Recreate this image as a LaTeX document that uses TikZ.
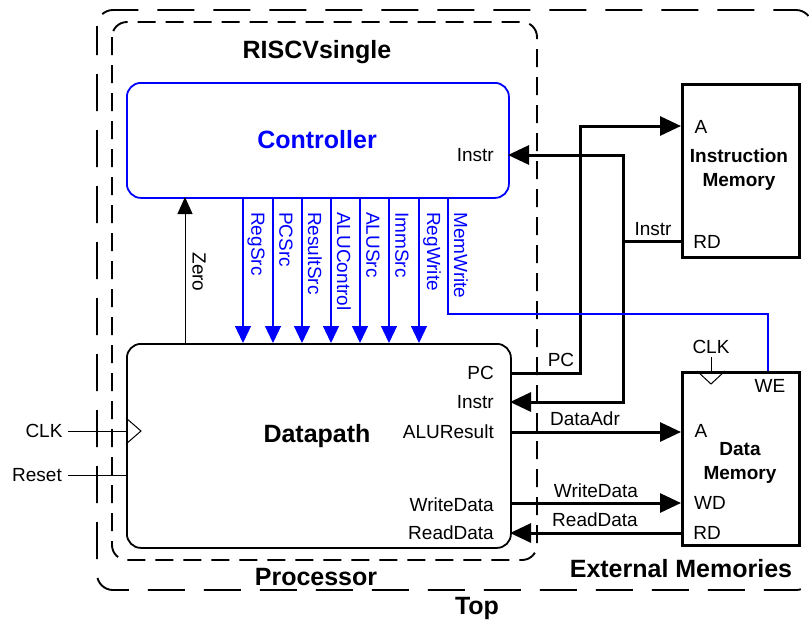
\documentclass[tikz,border=0pt]{standalone}
\usepackage{fontspec}
\setmainfont{Liberation Sans}
\usetikzlibrary{arrows.meta}
\tikzset{
  bigtitle/.style={font=\fontsize{25}{30}\selectfont\bfseries, inner sep=0pt},
  lbl/.style={font=\fontsize{19}{22}\selectfont, inner sep=0pt},
  memtitle/.style={font=\fontsize{19}{24}\selectfont\bfseries, align=center, inner sep=0pt},
  vlbl/.style={font=\fontsize{19}{22}\selectfont, inner sep=0pt, rotate=-90, anchor=west, blue},
  bus/.style={line width=3pt, -{Triangle[length=21pt,width=19pt]}},
  busplain/.style={line width=3pt},
  ctl/.style={blue, line width=1.2pt, -{Triangle[length=17pt,width=16pt]}},
  thinw/.style={line width=1pt},
  membox/.style={draw, line width=3.3pt, anchor=north west, inner sep=0pt, minimum width=117pt},
  outerdash/.style={draw, line width=1.9pt, dash pattern=on 37pt off 19pt, dash phase=8pt, rounded corners=16pt},
  innerdash/.style={draw, line width=1.9pt, dash pattern=on 18pt off 10pt, rounded corners=15pt},
}
\begin{document}
\begin{tikzpicture}[x=1pt,y=-1pt]
\useasboundingbox (0,0) rectangle (809,625);

% dashed hierarchy boxes
\draw[outerdash] (97,10) rectangle (812,590);
\draw[innerdash] (112,22) rectangle (537,560);

% main blocks
\node[draw=blue, line width=1.8pt, rounded corners=14pt, anchor=north west, inner sep=0pt,
      minimum width=382pt, minimum height=115pt] (ctrl) at (126,82) {};
\node[draw, line width=1.8pt, rounded corners=14pt, anchor=north west, inner sep=0pt,
      minimum width=384pt, minimum height=204pt] (dp) at (126,343) {};
\node[membox, minimum height=173pt] (im) at (681,83) {};
\node[membox, minimum height=173pt] (dm) at (681,371) {};

% titles
\node[bigtitle] (tRISCV) at (317,52) {RISCVsingle};
\node[bigtitle, text=blue] (tCtrl) at (317,140) {Controller};
\node[bigtitle] (tDp) at (317,436) {Datapath};
\node[bigtitle] (tProc) at (316,577) {Processor};
\node[bigtitle] (tExt) at (681,569) {External Memories};
\node[bigtitle] (tTop) at (477,608) {Top};
\node[memtitle] (tIM) at (739,170) {Instruction\\Memory};
\node[memtitle] (tDM) at (740,463) {Data\\Memory};

% port labels
\node[lbl, anchor=east] (lCI) at (494,155) {Instr};
\node[lbl, anchor=east] (lPC) at (494,373) {PC};
\node[lbl, anchor=east] (lDI) at (494,402) {Instr};
\node[lbl, anchor=east] (lALU) at (494,432) {ALUResult};
\node[lbl, anchor=east] (lWD) at (494,505) {WriteData};
\node[lbl, anchor=east] (lRD) at (494,533) {ReadData};
\node[lbl] (lIA) at (701,127) {A};
\node[lbl] (lIRD) at (707,242) {RD};
\node[lbl] (lDA) at (701,431) {A};
\node[lbl] (lDWD) at (710,503) {WD};
\node[lbl] (lDRD) at (707,533) {RD};
\node[lbl] (lWE) at (770,386) {WE};
\node[lbl] (lDCLK) at (711,347) {CLK};
\node[lbl] (lCLK) at (44,431) {CLK};
\node[lbl] (lRst) at (37,475) {Reset};

% bus labels
\node[lbl] (bPC) at (561,360) {PC};
\node[lbl] (bInstr) at (653,229) {Instr};
\node[lbl] (bDA) at (585,419) {DataAdr};
\node[lbl] (bWD) at (596,491) {WriteData};
\node[lbl] (bRD) at (595,520) {ReadData};

% port coordinates
\coordinate (imA) at (681,126);
\coordinate (imRD) at (681,241);
\coordinate (ctrlI) at (508,155);
\coordinate (dpPC) at (510,373);
\coordinate (dpI) at (510,402);
\coordinate (dpALU) at (510,432);
\coordinate (dmA) at (681,432);
\coordinate (dpWD) at (510,503);
\coordinate (dmWD) at (681,503);
\coordinate (dmRD) at (681,533);
\coordinate (dpRD) at (510,533);
\coordinate (pcbend) at (580,126);
\coordinate (ibend) at (623,241);

% buses
\draw[bus] (dpPC) -| (pcbend) -- (imA);
\draw[busplain] (imRD) -- (ibend);
\draw[bus] (ibend) |- (ctrlI);
\draw[bus] (ibend) |- (dpI);
\draw[bus] (dpALU) -- (dmA);
\draw[bus] (dpWD) -- (dmWD);
\draw[bus] (dmRD) -- (dpRD);

% Zero
\coordinate (zb) at (185,343);
\coordinate (zt) at (185,197);
\draw[thinw, -{Triangle[length=17pt,width=15pt]}] (zb) -- (zt);
\node[lbl, rotate=-90] (lZero) at (199,272) {Zero};

% control signals
\foreach \x/\t in {243/RegSrc,273/PCSrc,302/ResultSrc,331/ALUControl,360/ALUSrc,389/ImmSrc,419/RegWrite}{
  \coordinate (c\x t) at (\x,197);
  \coordinate (c\x b) at (\x,343);
  \draw[ctl] (c\x t) -- (c\x b);
  \node[vlbl] (l\x) at (\x+13,212) {\t};
}
\coordinate (mwt) at (448,197);
\coordinate (mwb) at (448,314);
\coordinate (mwe) at (768,371);
\draw[blue, line width=1.2pt] (mwt) -- (mwb) -| (mwe);
\node[vlbl] (lMW) at (461,212) {MemWrite};

% clocks
\coordinate (clkin) at (68,431);
\coordinate (rstin) at (68,475);
\draw[thinw] (clkin) -- (dp.west |- clkin);
\draw[thinw] (rstin) -- (dp.west |- rstin);
\draw[thinw] (126,418) -- (141,431) -- (126,444);
\coordinate (dclk) at (711,357);
\draw[thinw] (dclk) -- (dclk |- dm.north);
\draw[thinw] (697,371) -- (711,384) -- (725,371);
\end{tikzpicture}
\end{document}
